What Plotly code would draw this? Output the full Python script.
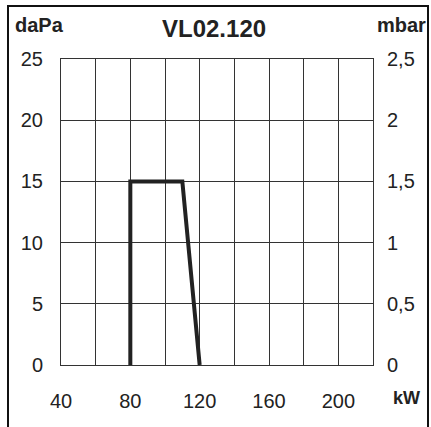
import plotly.graph_objects as go

# Data
power_kw = [80, 80, 110, 120]
pressure_dapa = [0, 15, 15, 0]
pressure_mbar = [p / 10 for p in pressure_dapa]

x_tick_vals = [40, 60, 80, 100, 120, 140, 160, 180, 200, 220]
x_tick_text = ["40", "", "80", "", "120", "", "160", "", "200", ""]
y_tick_vals = [0, 5, 10, 15, 20, 25]
y_tick_text = ["0", "5", "10", "15", "20", "25"]
y2_tick_vals = [0, 0.5, 1, 1.5, 2, 2.5]
y2_tick_text = ["0", "0,5", "1", "1,5", "2", "2,5"]

FONT = "Liberation Sans, Arial, Helvetica, sans-serif"
GRID = "#333333"

fig = go.Figure()
fig.add_trace(go.Scatter(x=power_kw, y=pressure_dapa, mode="lines",
                         line=dict(color="#222222", width=4),
                         hoverinfo="skip", showlegend=False))
fig.add_trace(go.Scatter(x=power_kw, y=pressure_mbar, mode="lines", yaxis="y2",
                         line=dict(color="rgba(0,0,0,0)", width=0),
                         hoverinfo="skip", showlegend=False))

L, R, T, B = 61, 58, 59, 62
W, H = 431, 427
pw, ph = W - L - R, H - T - B

def px(x):
    return (x - L) / pw

def py(y):
    return (H - B - y) / ph

fig.update_layout(
    width=W, height=H,
    margin=dict(l=L, r=R, t=T, b=B),
    paper_bgcolor="white", plot_bgcolor="white",
    font=dict(family=FONT, color="#222222", size=20),
    xaxis=dict(range=[40, 220], tickvals=x_tick_vals, ticktext=x_tick_text,
               showgrid=True, gridcolor=GRID, gridwidth=1,
               showline=True, linecolor=GRID, linewidth=1, mirror=True,
               zeroline=False, ticks="", ticklabelstandoff=18,
               tickfont=dict(size=20)),
    yaxis=dict(range=[0, 25], tickvals=y_tick_vals, ticktext=y_tick_text,
               showgrid=True, gridcolor=GRID, gridwidth=1,
               showline=True, linecolor=GRID, linewidth=1, mirror=True,
               zeroline=False, ticks="", ticklabelstandoff=13,
               tickfont=dict(size=20)),
    yaxis2=dict(range=[0, 2.5], tickvals=y2_tick_vals, ticktext=y2_tick_text,
                overlaying="y", side="right", showgrid=False, zeroline=False,
                showline=False, ticks="", ticklabelstandoff=13,
                tickfont=dict(size=20)),
    shapes=[dict(type="rect", xref="paper", yref="paper",
                 x0=px(8), x1=px(428), y0=py(440), y1=py(6),
                 line=dict(color="#111111", width=2), fillcolor="rgba(0,0,0,0)")],
    annotations=[
        dict(text="<b>VL02.120</b>", xref="paper", yref="paper",
             x=px(214), y=py(29), xanchor="center", yanchor="middle",
             showarrow=False, font=dict(size=24)),
        dict(text="<b>daPa</b>", xref="paper", yref="paper",
             x=px(13), y=py(25), xanchor="left", yanchor="middle",
             showarrow=False, font=dict(size=20)),
        dict(text="<b>mbar</b>", xref="paper", yref="paper",
             x=px(428), y=py(25), xanchor="right", yanchor="middle",
             showarrow=False, font=dict(size=20)),
        dict(text="<b>kW</b>", xref="paper", yref="paper",
             x=px(422), y=py(398), xanchor="right", yanchor="middle",
             showarrow=False, font=dict(size=18)),
    ],
)

fig.write_html("out.html", config={"displayModeBar": False},
               post_script="document.body.style.margin='0';document.body.style.overflow='hidden';")
